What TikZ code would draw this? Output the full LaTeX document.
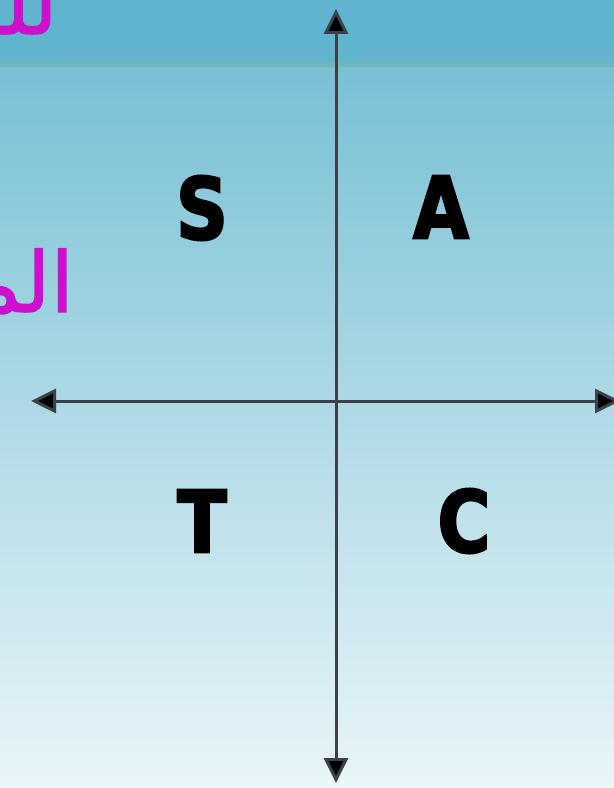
\documentclass[tikz,border=0pt]{standalone}
\usepackage{fontspec}
\usetikzlibrary{arrows.meta}
\TeXXeTstate=1
\newfontfamily\arabicfont[Script=Arabic, FakeBold=1.5]{DejaVu Sans}
\newfontfamily\heavyfont[FakeBold=2.6, FakeStretch=0.84]{DejaVu Sans Bold}
\definecolor{bandtop}{HTML}{60B4CD}
\definecolor{bandline}{HTML}{70B5B8}
\definecolor{gradtop}{HTML}{78C0D5}
\definecolor{gradbot}{HTML}{E9F5F8}
\definecolor{axiscol}{HTML}{3A4248}
\definecolor{arabmag}{HTML}{CC10CC}
\tikzset{
  axis/.style={draw=axiscol, line width=3bp, {Triangle[length=25bp,width=24bp,fill=black]}-{Triangle[length=25bp,width=24bp,fill=black]}},
  quadletter/.style={font=\heavyfont\fontsize{86}{86}\selectfont, text=black, inner sep=0pt},
  arabword/.style={font=\arabicfont\fontsize{84}{84}\selectfont, text=arabmag, inner sep=0pt, anchor=base east}
}
\begin{document}
\begin{tikzpicture}[x=1bp,y=-1bp]
\useasboundingbox (0,0) rectangle (614,788);
\clip (0,0) rectangle (614,788);
% background
\shade[top color=gradtop, bottom color=gradbot] (0,64) rectangle (614,788);
\fill[bandtop] (0,0) rectangle (614,64);
\fill[bandline] (0,62.5) rectangle (614,67);
% Arabic fragments
\node[arabword] (wordtop) at (58,34) {\beginR للمنظمة\endR};
\node[arabword] (wordmid) at (74,312) {\beginR المنظمة\endR};
% axes
\coordinate (ytop) at (336,9);
\coordinate (ybot) at (336,783);
\coordinate (xleft) at (31,401);
\coordinate (xright) at (620,401);
\draw[axis] (ybot) -- (ytop);
\draw[axis] (xleft) -- (xright);
% quadrant letters
\node[quadletter] (S) at (202,208) {S};
\node[quadletter] (A) at (441,207) {A};
\node[quadletter] (T) at (202,521) {T};
\node[quadletter] (C) at (464,521) {C};
\end{tikzpicture}
\end{document}
